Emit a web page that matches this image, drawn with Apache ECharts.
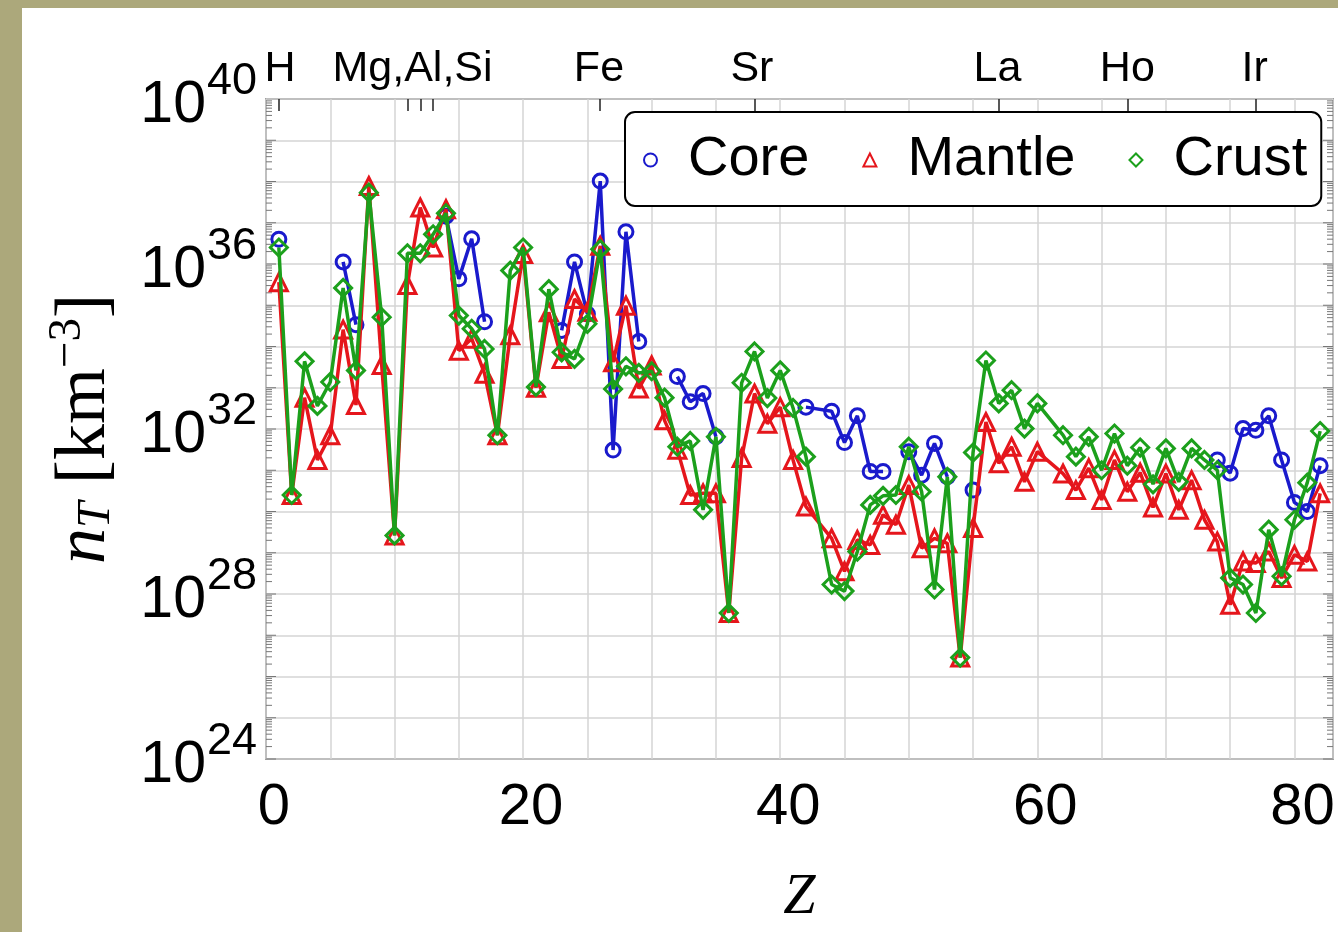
<!DOCTYPE html>
<html>
<head>
<meta charset="utf-8">
<script src="https://cdn.jsdelivr.net/npm/echarts@6.0.0/dist/echarts.min.js"></script>
<style>
  html, body { margin: 0; padding: 0; background: #aca87b; width: 1338px; height: 932px; overflow: hidden; }
  #chart { position: absolute; left: 22px; top: 8px; width: 1316px; height: 924px; background: #fff; }
</style>
</head>
<body>
<div id="chart"></div>
<script>
// atomic numbers present in the mantle / crust series (no Tc 43, no Pm 61)
const elementZ = [1, 2, 3, 4, 5, 6, 7, 8, 9, 10, 11, 12, 13, 14, 15, 16, 17, 18, 19, 20,
  21, 22, 23, 24, 25, 26, 27, 28, 29, 30, 31, 32, 33, 34, 35, 36, 37, 38, 39, 40, 41, 42,
  44, 45, 46, 47, 48, 49, 50, 51, 52, 53, 54, 55, 56, 57, 58, 59, 60,
  62, 63, 64, 65, 66, 67, 68, 69, 70, 71, 72, 73, 74, 75, 76, 77, 78, 79, 80, 81, 82]

// log10(n_T / km^-3)
const mantleLogN = [35.56, 30.40, 32.76, 31.25, 31.85, 34.41, 32.58, 37.89, 33.55, 29.42,
  35.49, 37.37, 36.40, 37.33, 33.90, 34.19, 33.34, 31.85, 34.27, 36.24,
  33.00, 34.83, 33.70, 35.15, 34.84, 36.44, 33.62, 34.99, 32.98, 33.54,
  32.21, 31.50, 30.40, 30.44, 30.44, 27.54, 31.30, 32.86, 32.13, 32.53, 31.25, 30.12,
  29.35, 28.55, 29.31, 29.19, 29.92, 29.68, 30.64, 29.11, 29.35, 29.23, 26.46, 29.60,
  32.17, 31.17, 31.57, 30.72, 31.45,
  30.92, 30.52, 31.05, 30.28, 31.25, 30.48, 30.94, 30.10, 30.92, 30.04, 30.76, 29.80,
  29.27, 27.74, 28.79, 28.75, 29.03, 28.39, 28.95, 28.79, 30.44]

const crustLogN = [36.40, 30.40, 33.64, 32.56, 33.14, 35.42, 33.42, 37.73, 34.71, 29.42,
  36.26, 36.26, 36.72, 37.23, 34.75, 34.43, 33.94, 31.85, 35.84, 36.40,
  33.02, 35.39, 33.86, 33.70, 34.55, 36.36, 32.97, 33.52, 33.36, 33.40,
  32.76, 31.57, 31.71, 30.04, 31.81, 27.54, 33.12, 33.88, 32.75, 33.42, 32.51, 31.33,
  28.23, 28.07, 29.03, 30.16, 30.38, 30.40, 31.57, 30.48, 28.11, 30.84, 26.46, 31.43,
  33.66, 32.62, 32.94, 32.01, 32.62,
  31.85, 31.33, 31.81, 31.00, 31.89, 31.11, 31.55, 30.66, 31.53, 30.72, 31.53, 31.25,
  31.00, 28.39, 28.23, 27.54, 29.56, 28.43, 29.80, 30.70, 31.95]

const coreZ = [1, 6, 7, 14, 15, 16, 17, 23, 24, 25, 26, 27, 28, 29, 32, 33, 34, 35,
  42, 44, 45, 46, 47, 48, 50, 51, 52, 53, 55, 74, 75, 76, 77, 78, 79, 80, 81, 82]
const coreLogN = [36.60, 36.05, 34.53, 37.16, 35.64, 36.61, 34.60, 34.39, 36.05, 34.79,
  38.01, 31.49, 36.78, 34.12, 33.27, 32.66, 32.86, 31.81,
  32.53, 32.43, 31.67, 32.32, 30.97, 30.97, 31.45, 30.88, 31.65, 30.84, 30.52,
  31.25, 30.93, 32.01, 31.97, 32.32, 31.25, 30.22, 30.00, 31.11]

// element markers on the top edge
const topTickZ = [1, 11, 12, 13, 26, 38, 57, 67, 77]
const topLabelZ = [1.1, 11.4, 25.9, 37.8, 56.9, 67, 76.9]
const topLabelText = ['H', 'Mg,Al,Si', 'Fe', 'Sr', 'La', 'Ho', 'Ir']

const seriesNames = ['Core', 'Mantle', 'Crust']
const seriesColors = ['#1a1acc', '#e5161c', '#1ca01c']
const seriesSymbols = ['circle', 'triangle', 'diamond']

const sans = 'Liberation Sans, Arial, Helvetica, sans-serif'
const serif = 'Liberation Serif, DejaVu Serif, serif'
const xMin = 0
const xMax = 83

// core has gaps where intermediate elements are missing
const coreData = []
coreZ.forEach((z, i) => {
  if (i > 0 && elementZ.indexOf(z) - elementZ.indexOf(coreZ[i - 1]) > 1) {
    coreData.push([(z + coreZ[i - 1]) / 2, '-'])
  }
  coreData.push([z, coreLogN[i]])
})
const mantleData = elementZ.map((z, i) => [z, mantleLogN[i]])
const crustData = elementZ.map((z, i) => [z, crustLogN[i]])

// log minor ticks on the left/right frame
const logTicks = []
for (let d = 24; d < 40; d++) {
  for (let k = 1; k <= 9; k++) {
    logTicks.push([xMin, d + Math.log10(k), k === 1 ? 1 : 0])
  }
}

function lineSeries(idx, data, size) {
  const c = seriesColors[idx]
  return {
    name: seriesNames[idx],
    type: 'line',
    data: data,
    z: 2 + idx,
    symbol: seriesSymbols[idx],
    symbolSize: size,
    showAllSymbol: true,
    connectNulls: false,
    silent: true,
    color: c,
    lineStyle: { color: c, width: 3.5 },
    itemStyle: { color: 'rgba(255,255,255,0)', borderColor: c, borderWidth: 3 }
  }
}

const chart = echarts.init(document.getElementById('chart'))
chart.setOption({
  animation: false,
  grid: {
    left: 244,
    top: 91,
    right: 5,
    bottom: 171,
    show: true,
    borderColor: '#555',
    borderWidth: 1.5
  },
  legend: {
    left: 603,
    top: 104,
    orient: 'horizontal',
    data: seriesNames.map((n, i) => ({
      name: n,
      icon: seriesSymbols[i],
      itemStyle: { color: 'rgba(255,255,255,0)', borderColor: seriesColors[i], borderWidth: 2 }
    })),
    itemWidth: 13,
    itemHeight: 13,
    itemGap: 53,
    padding: [20, 14, 18, 18],
    backgroundColor: '#fff',
    borderColor: '#000',
    borderWidth: 2,
    borderRadius: 10,
    selectedMode: false,
    textStyle: { fontSize: 56, fontFamily: sans, color: '#000', padding: [0, 0, 0, 26] }
  },
  xAxis: [
    {
      type: 'value',
      min: xMin,
      max: xMax,
      interval: 5,
      position: 'bottom',
      name: 'Z',
      nameLocation: 'middle',
      nameGap: 110,
      nameTextStyle: { fontSize: 58, fontFamily: serif, fontStyle: 'italic', color: '#000' },
      axisLine: { show: false },
      axisTick: { show: false },
      axisLabel: {
        formatter: v => (v % 20 === 0 ? String(v) : ''),
        fontSize: 58,
        fontFamily: sans,
        color: '#000',
        margin: 20,
        padding: [0, 0, 0, 16],
        showMaxLabel: false
      },
      splitLine: { show: true, lineStyle: { color: '#d4d4d4', width: 1.5 } }
    },
    {
      type: 'value',
      min: xMin,
      max: xMax,
      position: 'top',
      axisLine: { show: false },
      axisTick: {
        show: true,
        inside: true,
        length: 12,
        customValues: topTickZ,
        lineStyle: { color: '#222', width: 1.5 }
      },
      axisLabel: {
        show: true,
        customValues: topLabelZ,
        formatter: v => {
          const i = topLabelZ.findIndex(p => Math.abs(p - v) < 1e-6)
          return i >= 0 ? topLabelText[i] : ''
        },
        fontSize: 43,
        fontFamily: sans,
        color: '#000',
        margin: 8
      },
      splitLine: { show: false }
    }
  ],
  yAxis: {
    type: 'value',
    min: 24,
    max: 40,
    interval: 1,
    name: '{i|n}{t|T}{r| [km}{u|−3}{r|]}',
    nameLocation: 'middle',
    nameGap: 140,
    nameTextStyle: {
      color: '#000',
      rich: {
        i: { fontSize: 72, fontFamily: serif, fontStyle: 'italic', color: '#000' },
        t: { fontSize: 47, fontFamily: serif, fontStyle: 'italic', color: '#000', padding: [24, 0, 0, 0] },
        r: { fontSize: 72, fontFamily: serif, color: '#000' },
        u: { fontSize: 47, fontFamily: serif, color: '#000', padding: [0, 0, 35, 0] }
      }
    },
    axisLine: { show: false },
    axisTick: { show: false },
    axisLabel: {
      formatter: v => ((v - 24) % 4 === 0 ? '{b|10}{s|' + v + '}' : ''),
      margin: 9,
      rich: {
        b: { fontSize: 59, fontFamily: sans, color: '#000', padding: [14, 1, 0, 0] },
        s: { fontSize: 45, fontFamily: sans, color: '#000', padding: [0, 0, 34, 0] }
      }
    },
    splitLine: { show: true, lineStyle: { color: '#d4d4d4', width: 1.5 } }
  },
  series: [
    lineSeries(0, coreData, 14),
    lineSeries(1, mantleData, 17),
    lineSeries(2, crustData, 17),
    {
      type: 'custom',
      silent: true,
      z: 1,
      data: logTicks,
      encode: { x: 0, y: 1 },
      renderItem: (params, api) => {
        const y = api.value(1)
        const major = api.value(2) === 1
        const l = api.coord([xMin, y])
        const r = api.coord([xMax, y])
        const len = major ? 10 : 6
        const st = { stroke: '#777', lineWidth: 1 }
        return {
          type: 'group',
          children: [
            { type: 'line', shape: { x1: l[0], y1: l[1], x2: l[0] + len, y2: l[1] }, style: st },
            { type: 'line', shape: { x1: r[0], y1: r[1], x2: r[0] - len, y2: r[1] }, style: st }
          ]
        }
      }
    }
  ]
})
</script>
</body>
</html>
